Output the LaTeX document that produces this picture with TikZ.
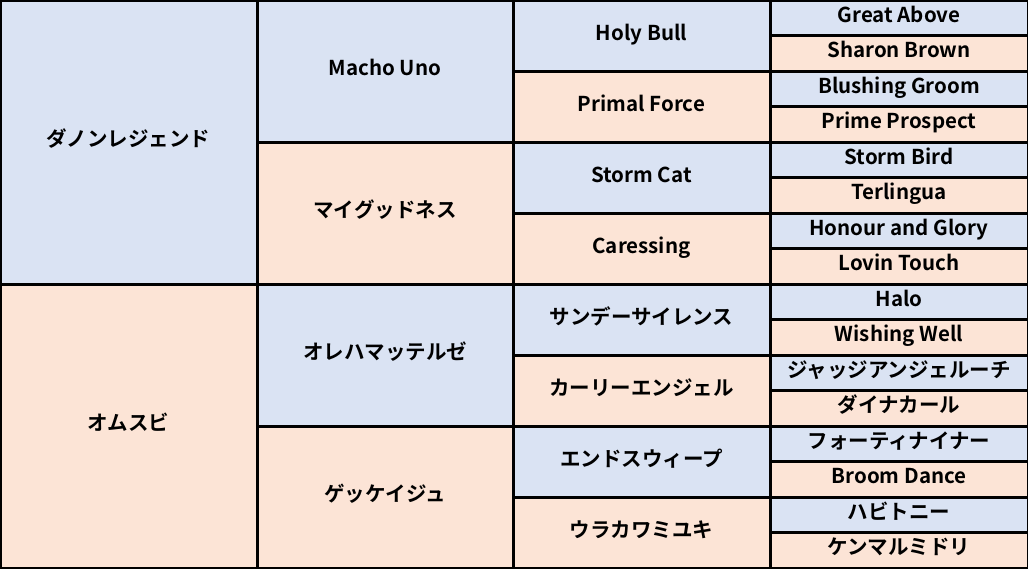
\documentclass[tikz,border=0pt]{standalone}
\usepackage{fontspec}
\setmainfont{Noto Sans CJK JP}[BoldFont={* Bold}]
\usepackage{tikz}
\usetikzlibrary{positioning}
\definecolor{sire}{RGB}{218,227,243}
\definecolor{dam}{RGB}{252,228,214}
\definecolor{edge}{RGB}{180,192,216}
\tikzset{
  horse/.style={draw=black, line width=3pt, inner sep=0pt, text height=15pt, text depth=6pt,
                font=\bfseries\fontsize{20.5}{24}\selectfont},
  gen1/.style={horse, minimum width=257pt, minimum height=284pt},
  gen2/.style={horse, minimum width=256pt, minimum height=142pt},
  gen3/.style={horse, minimum width=257pt, minimum height=71pt},
  gen4/.style={horse, minimum width=258pt, minimum height=35.5pt},
  m/.style={fill=sire}, f/.style={fill=dam}
}
\begin{document}
\begin{tikzpicture}[x=1pt, y=-1pt]
\useasboundingbox (0,0) rectangle (1028,568);
% parents
\node[gen1, m] (p1) at (128.5,142) {ダノンレジェンド};
\node[gen1, f] (p2) at (128.5,426) {オムスビ};
% grandparents
\node[gen2, m] (g1) at (385,71)  {Macho Uno};
\node[gen2, f] (g2) at (385,213) {マイグッドネス};
\node[gen2, m] (g3) at (385,355) {オレハマッテルゼ};
\node[gen2, f] (g4) at (385,497) {ゲッケイジュ};
% great-grandparents
\node[gen3, m] (gg1) at (641.5,35.5)  {Holy Bull};
\node[gen3, f] (gg2) at (641.5,106.5) {Primal Force};
\node[gen3, m] (gg3) at (641.5,177.5) {Storm Cat};
\node[gen3, f] (gg4) at (641.5,248.5) {Caressing};
\node[gen3, m] (gg5) at (641.5,319.5) {サンデーサイレンス};
\node[gen3, f] (gg6) at (641.5,390.5) {カーリーエンジェル};
\node[gen3, m] (gg7) at (641.5,461.5) {エンドスウィープ};
\node[gen3, f] (gg8) at (641.5,532.5) {ウラカワミユキ};
% 4th generation
\node[gen4, m] (a1)  at (899,17.75)  {Great Above};
\node[gen4, f] (a2)  at (899,53.25)  {Sharon Brown};
\node[gen4, m] (a3)  at (899,88.75)  {Blushing Groom};
\node[gen4, f] (a4)  at (899,124.25) {Prime Prospect};
\node[gen4, m] (a5)  at (899,159.75) {Storm Bird};
\node[gen4, f] (a6)  at (899,195.25) {Terlingua};
\node[gen4, m] (a7)  at (899,230.75) {Honour and Glory};
\node[gen4, f] (a8)  at (899,266.25) {Lovin Touch};
\node[gen4, m] (a9)  at (899,301.75) {Halo};
\node[gen4, f] (a10) at (899,337.25) {Wishing Well};
\node[gen4, m] (a11) at (899,372.75) {ジャッジアンジェルーチ};
\node[gen4, f] (a12) at (899,408.25) {ダイナカール};
\node[gen4, m] (a13) at (899,443.75) {フォーティナイナー};
\node[gen4, f] (a14) at (899,479.25) {Broom Dance};
\node[gen4, m] (a15) at (899,514.75) {ハビトニー};
\node[gen4, f] (a16) at (899,550.25) {ケンマルミドリ};
%
\draw[edge, line width=2pt] (p2.south west) -- (p1.north west) -- (a1.north east);
\end{tikzpicture}
\end{document}
